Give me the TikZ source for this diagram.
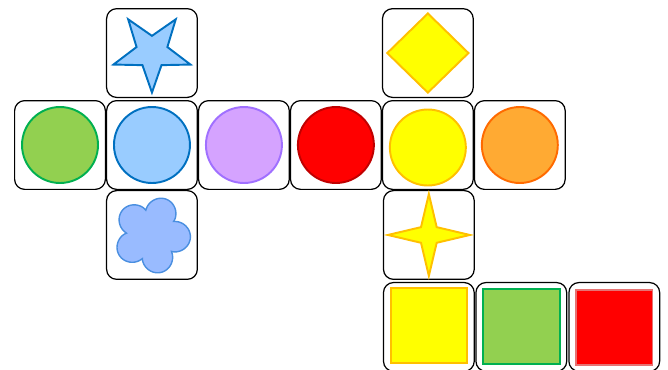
\documentclass[tikz,border=0pt]{standalone}
\usetikzlibrary{positioning,shapes.geometric}
\definecolor{grassfill}{HTML}{92D050}
\definecolor{grassline}{HTML}{00B050}
\definecolor{skyfill}{HTML}{99CCFF}
\definecolor{skyline}{HTML}{0070C0}
\definecolor{lilacfill}{HTML}{D5A3FF}
\definecolor{lilacline}{HTML}{A070FF}
\definecolor{redfill}{HTML}{FF0000}
\definecolor{redline}{HTML}{C00000}
\definecolor{sunfill}{HTML}{FFFF00}
\definecolor{sunline}{HTML}{FFC000}
\definecolor{amberfill}{HTML}{FFAA33}
\definecolor{amberline}{HTML}{FF6A00}
\definecolor{petalfill}{HTML}{99BBFF}
\definecolor{petalline}{HTML}{4A8FE0}
\tikzset{
    tilebox/.style={rectangle,draw,rounded corners=2mm,line width=0.7pt,minimum width=1.815cm,minimum height=1.775cm,inner sep=0pt},
    roundmark/.style={circle,line width=1.1pt,minimum size=1.52cm,inner sep=0pt},
    squaremark/.style={rectangle,line width=1.1pt,minimum width=1.53cm,minimum height=1.5cm,inner sep=0pt},
    diamondmark/.style={diamond,line width=1.1pt,minimum width=1.64cm,minimum height=1.6cm,inner sep=0pt,fill=sunfill,draw=sunline},
    starmark/.style={star,star points=5,star point ratio=2.5,shape border rotate=180,minimum size=1.62cm,inner sep=0pt,line width=1.1pt,fill=skyfill,draw=skyline},
    sparkmark/.style={star,star points=4,star point ratio=3.7,minimum size=1.64cm,inner sep=0pt,line width=1.1pt,fill=sunfill,draw=sunline},
    petalmark/.style={line width=0.8pt,fill=petalfill,draw=petalline}
}
\begin{document}
\begin{tikzpicture}[x=0.02cm,y=-0.02cm,node distance=0mm]
        \useasboundingbox (0,0) rectangle (668,369);
        % middle row
        \node[tilebox] (bgreen) at (60,145) {};
        \node[tilebox,right=of bgreen] (bblue) {};
        \node[tilebox,right=of bblue] (blilac) {};
        \node[tilebox,right=of blilac] (bred) {};
        \node[tilebox,right=of bred] (byellow) {};
        \node[tilebox,right=of byellow] (bamber) {};
        % above and below
        \node[tilebox,above=0.4mm of bblue] (bstar) {};
        \node[tilebox,below=0mm of bblue] (bflower) {};
        \node[tilebox,above=0.4mm of byellow] (bdiamond) {};
        \node[tilebox,below=0mm of byellow,xshift=0.2mm] (bspark) {};
        \node[tilebox,below=0.4mm of bspark] (bsqyellow) {};
        \node[tilebox,right=0.1mm of bsqyellow] (bsqgreen) {};
        \node[tilebox,right=0.2mm of bsqgreen] (bsqred) {};
        % marks
        \node[roundmark,fill=grassfill,draw=grassline] (cgreen) at (bgreen) {};
        \node[roundmark,fill=skyfill,draw=skyline] (cblue) at (bblue) {};
        \node[roundmark,fill=lilacfill,draw=lilacline] (clilac) at (blilac) {};
        \node[roundmark,fill=redfill,draw=redline] (cred) at (bred) {};
        \node[roundmark,fill=sunfill,draw=sunline] (cyellow) at ([yshift=-0.5mm]byellow) {};
        \node[roundmark,fill=amberfill,draw=amberline] (camber) at (bamber) {};
        \node[starmark] (cstar) at ([yshift=0.2mm]bstar) {};
        \node[diamondmark] (cdiamond) at (bdiamond) {};
        \node[sparkmark] (cspark) at (bspark) {};
        \node[squaremark,fill=sunfill,draw=sunline] (sqyellow) at ([yshift=0.3mm]bsqyellow) {};
        \node[squaremark,fill=grassfill,draw=grassline] (sqgreen) at (bsqgreen) {};
        \node[squaremark,fill=redfill,draw=redline!40!pink] (sqred) at ([yshift=-0.2mm]bsqred) {};
        \draw[petalmark,shift={(bflower.center)}] plot[domain=0:358,samples=180] (\x:{(0.5+0.27*pow(abs(cos(2.5*(\x+4.3))),0.75))*1cm}) -- cycle;
    \end{tikzpicture}
\end{document}
